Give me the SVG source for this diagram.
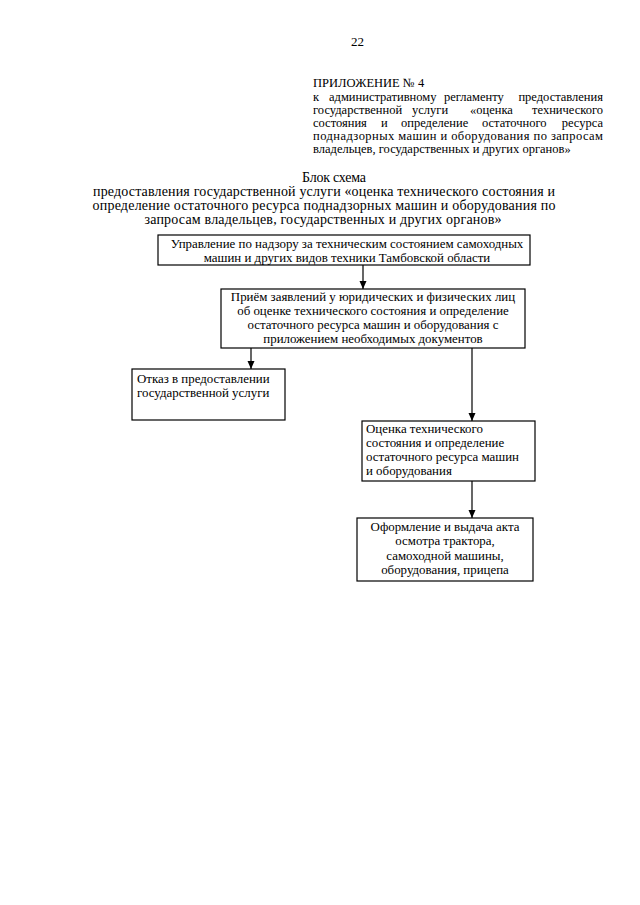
<svg xmlns="http://www.w3.org/2000/svg" width="640" height="905" viewBox="0 0 640 905">
<defs>
<marker id="ah" viewBox="0 0 8 10" refX="8" refY="5" markerWidth="8" markerHeight="10" markerUnits="userSpaceOnUse" orient="auto">
<path d="M0,1.5 L8,5 L0,8.5 Z" fill="#000"/>
</marker>
<style>
text{font-family:"Liberation Serif","Times New Roman",serif;fill:#000}
.h{font-size:12.5px}
.t{font-size:14px;text-anchor:middle}
.b{font-size:12.9px}
.c{text-anchor:middle}
rect{fill:#fff;stroke:#000;stroke-width:1.2}
.con line{stroke:#000;stroke-width:1.2}
</style>
</defs>
<rect x="0" y="0" width="640" height="905" style="stroke:none"/>
<g id="header">
<text class="h" x="351" y="46" style="font-size:13px">22</text>
<text class="h" x="313" y="87">ПРИЛОЖЕНИЕ № 4</text>
<text class="h" x="313" y="101">к</text>
<text class="h" x="329" y="101">административному</text>
<text class="h" x="444" y="101">регламенту</text>
<text class="h" x="603" y="101" text-anchor="end">предоставления</text>
<text class="h" x="313" y="114">государственной</text>
<text class="h" x="412" y="114">услуги</text>
<text class="h" x="470" y="114">«оценка</text>
<text class="h" x="603" y="114" text-anchor="end">технического</text>
<text class="h" x="313" y="127">состояния</text>
<text class="h" x="381" y="127">и</text>
<text class="h" x="401" y="127">определение</text>
<text class="h" x="482" y="127">остаточного</text>
<text class="h" x="603" y="127" text-anchor="end">ресурса</text>
<text class="h" x="313" y="140" textLength="290" lengthAdjust="spacing">поднадзорных машин и оборудования по запросам</text>
<text class="h" x="313" y="153">владельцев, государственных и других органов»</text>
</g>
<g id="title">
<text class="t" x="334" y="182" textLength="64" lengthAdjust="spacing">Блок схема</text>
<text class="t" x="324" y="196" textLength="462" lengthAdjust="spacing">предоставления государственной услуги «оценка технического состояния и</text>
<text class="t" x="324" y="210" textLength="463" lengthAdjust="spacing">определение остаточного ресурса поднадзорных машин и оборудования по</text>
<text class="t" x="323" y="224" textLength="357" lengthAdjust="spacing">запросам владельцев, государственных и других органов»</text>
</g>
<g class="con" id="connectors">
<line x1="363" y1="265" x2="363" y2="289" marker-end="url(#ah)"/>
<line x1="251" y1="348" x2="251" y2="369" marker-end="url(#ah)"/>
<line x1="472" y1="348" x2="472" y2="421" marker-end="url(#ah)"/>
<line x1="472" y1="481" x2="472" y2="518" marker-end="url(#ah)"/>
</g>
<g id="n1">
<rect x="158" y="235" width="372" height="30"/>
<text class="b c" x="347" y="248">Управление по надзору за техническим состоянием самоходных</text>
<text class="b c" x="347" y="262">машин и других видов техники Тамбовской области</text>
</g>
<g id="n2">
<rect x="221" y="289" width="304" height="59"/>
<text class="b c" x="373" y="301">Приём заявлений у юридических и физических лиц</text>
<text class="b c" x="373" y="315">об оценке технического состояния и определение</text>
<text class="b c" x="373" y="329">остаточного ресурса машин и оборудования с</text>
<text class="b c" x="373" y="343">приложением необходимых документов</text>
</g>
<g id="n3">
<rect x="132" y="369" width="153" height="51"/>
<text class="b" x="137" y="383">Отказ в предоставлении</text>
<text class="b" x="137" y="397">государственной услуги</text>
</g>
<g id="n4">
<rect x="362" y="421" width="173" height="60"/>
<text class="b" x="366" y="433">Оценка технического</text>
<text class="b" x="366" y="447">состояния и определение</text>
<text class="b" x="366" y="461">остаточного ресурса машин</text>
<text class="b" x="366" y="475">и оборудования</text>
</g>
<g id="n5">
<rect x="357" y="518" width="176" height="63"/>
<text class="b c" x="445" y="531">Оформление и выдача акта</text>
<text class="b c" x="445" y="545">осмотра трактора,</text>
<text class="b c" x="445" y="560">самоходной машины,</text>
<text class="b c" x="445" y="574">оборудования, прицепа</text>
</g>
</svg>
